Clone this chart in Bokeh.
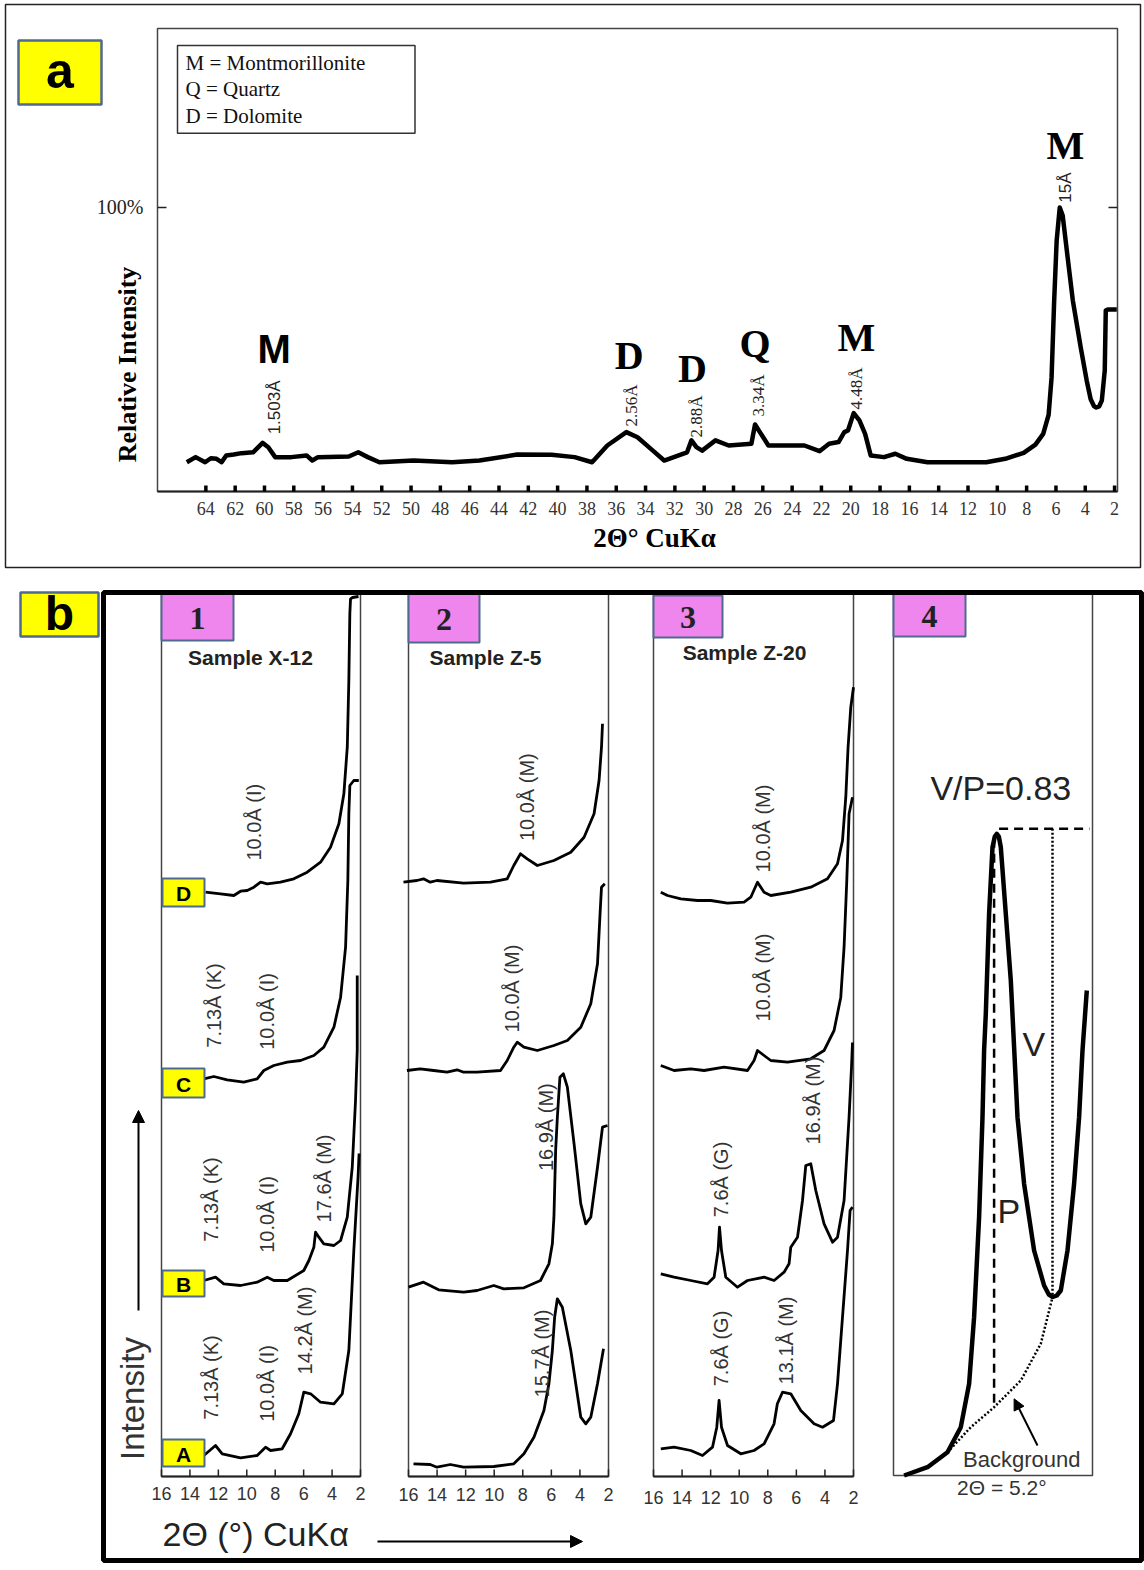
import numpy as np
from bokeh.plotting import figure
from bokeh.models import Range1d, Arrow, NormalHead
from bokeh.core.properties import value
from bokeh.embed import file_html
from bokeh.resources import INLINE

W, H = 1144, 1570

# ---------------- data: panel a (2theta in degrees, relative intensity in %) ----------------
A_TWO_THETA = [65.3, 64.7, 64.05, 63.66, 63.27, 62.93, 62.61, 62.10, 61.57, 60.78, 60.13, 59.74,
               59.27, 58.17, 57.13, 56.74, 56.35, 54.25, 53.60, 52.95, 52.16, 49.82, 47.20, 45.33,
               42.76, 40.41, 38.84, 37.65, 36.61, 35.31, 34.55, 33.50, 32.73, 31.17, 30.87, 30.53,
               30.14, 29.23, 28.33, 26.78, 26.53, 25.62, 23.16, 22.13, 21.48, 20.83, 20.44, 20.19,
               19.80, 19.41, 19.02, 18.64, 17.73, 16.96, 16.18, 14.76, 10.75, 9.46, 8.20, 7.40,
               6.87, 6.50, 6.30, 6.12, 5.95, 5.74, 5.54, 5.26, 4.85, 4.31, 3.90, 3.63, 3.40, 3.25,
               3.05, 2.87, 2.67, 2.60, 2.46, 1.85]
A_INTENSITY = [10.3, 12.1, 10.3, 11.7, 11.5, 10.3, 12.7, 13.0, 13.5, 13.8, 17.1, 15.6,
               12.1, 12.1, 12.7, 10.9, 12.1, 12.3, 13.8, 12.1, 10.3, 10.9, 10.3, 10.9,
               13.0, 12.9, 12.1, 10.3, 16.2, 20.9, 19.1, 14.4, 10.9, 13.8, 18.0, 15.6,
               14.4, 18.0, 16.2, 16.8, 23.6, 16.2, 16.2, 14.2, 16.8, 17.4, 20.9, 21.5,
               27.6, 25.0, 20.3, 12.7, 12.1, 13.3, 11.5, 10.3, 10.3, 11.5, 13.6, 16.5,
               20.3, 27.0, 40.0, 67.3, 88.4, 100.0, 97.2, 84.9, 67.3, 50.7, 39.0, 32.5, 30.0, 29.6,
               30.0, 32.0, 42.6, 63.7, 64.1, 64.1]
A_TICKS = [64, 62, 60, 58, 56, 54, 52, 50, 48, 46, 44, 42, 40, 38, 36, 34, 32, 30, 28, 26, 24,
           22, 20, 18, 16, 14, 12, 10, 8, 6, 4, 2]
A_TICK_LABELS = [str(t) for t in A_TICKS]
A_PEAK_LETTERS = ["M", "D", "D", "Q", "M", "M"]
A_PEAK_D = ["1.503Å", "2.56Å", "2.88Å", "3.34Å", "4.48Å", "15Å"]
A_PEAK_POS = [59.34, 34.93, 30.54, 26.29, 19.61, 5.35]
LEGEND_LINES = ["M = Montmorillonite", "Q = Quartz", "D = Dolomite"]

# ---------------- data: panel b (2theta in degrees, intensity in arbitrary units) ----------------
B_TICKS = [16, 14, 12, 10, 8, 6, 4, 2]
B_TICK_LABELS = [str(t) for t in B_TICKS]

S1_D_X = [12.90, 11.85, 10.91, 10.44, 9.97, 9.50, 9.03, 8.56, 7.63, 6.69, 5.75, 4.81, 4.11, 3.52,
          3.17, 2.93, 2.82, 2.75, 2.70, 2.56, 2.14]
S1_D_Y = [584.3, 582.7, 581, 585.3, 586, 589.3, 594.3, 592.7, 594.3, 597.7, 604.3, 614.3, 629.3,
          652.7, 682.7, 729.3, 796, 862.7, 877.7, 879, 880]
S1_C_X = [13.02, 12.32, 11.38, 10.21, 9.27, 8.80, 8.10, 7.15, 6.22, 5.28, 4.58, 3.87, 3.40, 3.05,
          2.89, 2.82, 2.75, 2.47, 2.12]
S1_C_Y = [397.7, 400, 396.7, 394.3, 397.7, 406, 411, 414.3, 416, 421, 429.3, 449.3, 479.3, 529.3,
          596, 663, 691, 696, 696]
S1_B_X = [13.02, 12.20, 11.62, 10.44, 9.27, 8.56, 8.10, 7.15, 5.99, 5.63, 5.28, 5.16, 4.93, 4.58,
          3.87, 3.40, 2.93, 2.58, 2.35, 2.23, 2.23]
S1_B_Y = [196, 199.3, 192.7, 191, 194.3, 199.3, 196, 196, 206, 216, 229.3, 244.3, 239.3, 232.7,
          231, 236, 259.3, 309.3, 376, 426, 501]
S1_A_X = [13.02, 12.20, 11.73, 10.44, 9.27, 8.68, 8.33, 7.51, 6.92, 6.34, 5.99, 5.51, 4.81, 3.87,
          3.28, 2.82, 2.47, 2.17, 2.10]
S1_A_Y = [21, 31, 22.7, 18.7, 21, 29.3, 26, 27.7, 42.7, 62.7, 84.3, 82.7, 74.3, 72.7, 82.7, 126,
          226, 300, 323]

S2_D_X = [16.35, 15.41, 14.95, 14.48, 14.01, 12.14, 10.26, 9.09, 8.63, 8.16, 7.69, 6.98, 5.82,
          4.64, 3.71, 3.01, 2.66, 2.49, 2.42]
S2_D_Y = [594.3, 596, 597.7, 594.3, 596, 593.3, 594.3, 597.7, 611, 622.7, 617.7, 611, 616, 624.3,
          639.3, 662.7, 696, 729.3, 752.7]
S2_C_X = [16.11, 15.18, 14.24, 13.30, 12.60, 12.14, 11.20, 9.56, 9.09, 8.63, 8.39, 7.92, 6.98,
          5.82, 4.88, 3.94, 3.24, 2.77, 2.59, 2.49, 2.26]
S2_C_Y = [406, 407.7, 406, 404.3, 406.7, 404.3, 404.3, 406, 416, 429.3, 434.3, 429.3, 426, 431,
          436, 449.3, 472.7, 512.7, 562.7, 589.3, 592.7]
S2_B_X = [16.00, 14.95, 13.89, 12.14, 11.20, 10.03, 9.33, 7.92, 6.76, 6.17, 5.93, 5.82, 5.70, 5.58,
          5.40, 5.16, 4.88, 4.41, 3.94, 3.59, 3.24, 2.77, 2.42, 2.07]
S2_B_Y = [189.3, 194.3, 186.7, 184.3, 186, 191, 187.7, 188.7, 196, 212.7, 232.7, 259.3, 326, 359.3,
          399.3, 402.7, 389.3, 332.7, 272.7, 252.7, 259.3, 309.3, 349.3, 351]
S2_A_X = [15.65, 14.48, 14.01, 13.07, 12.14, 10.03, 8.63, 7.92, 7.22, 6.52, 6.17, 5.93, 5.77, 5.58,
          5.23, 4.64, 3.94, 3.59, 3.24, 2.77, 2.35]
S2_A_Y = [12.7, 12, 9.3, 12, 9.3, 10, 12.7, 22.7, 39.3, 66, 92.7, 126, 159.3, 177.7, 169.3, 126,
          59.3, 52.7, 59.3, 92.7, 127.7]

S3_D_X = [15.49, 15.02, 14.09, 12.92, 11.99, 10.82, 9.66, 9.19, 8.72, 8.26, 7.79, 6.39, 4.99, 3.82,
          3.12, 2.77, 2.54, 2.38, 2.19, 2.00]
S3_D_Y = [584.3, 581, 577.7, 576, 576, 573.3, 574.3, 579.3, 594.3, 584.3, 581, 584.3, 589.3, 597.7,
          612.7, 636, 679.3, 729.3, 769.3, 789.3]
S3_C_X = [15.49, 14.56, 13.39, 12.46, 11.06, 9.42, 8.96, 8.72, 8.26, 7.79, 6.62, 4.99, 4.06, 3.36,
          2.89, 2.66, 2.47, 2.31, 2.07]
S3_C_Y = [411, 406, 407.7, 406, 409.3, 406, 416, 426, 421, 416, 414.3, 417.7, 426, 446, 479.3,
          529.3, 596, 662.7, 679.3]
S3_B_X = [15.49, 14.56, 13.39, 12.22, 11.76, 11.48, 11.38, 11.24, 10.94, 10.12, 9.42, 8.26, 7.56,
          6.86, 6.51, 6.39, 5.92, 5.57, 5.34, 4.99, 4.64, 4.06, 3.47, 3.12, 2.66, 2.31, 2.14, 2.07]
S3_B_Y = [202.7, 199.3, 196, 192.7, 199.3, 226, 249.3, 226, 199.3, 189.3, 196, 199.3, 196, 204.3,
          212.7, 229.3, 239.3, 276, 311, 312.7, 286, 252.7, 234.3, 239.3, 276, 359.3, 409.3, 434]
S3_A_X = [15.49, 14.56, 13.39, 12.57, 11.87, 11.57, 11.41, 11.24, 10.82, 9.89, 8.96, 8.26, 7.91,
          7.56, 7.33, 6.97, 6.39, 5.69, 4.76, 4.17, 3.40, 3.12, 2.77, 2.42, 2.24, 2.07]
S3_A_Y = [27.7, 29.3, 26, 21, 29.3, 49.3, 76, 49.3, 31, 22.7, 26, 32.7, 42.7, 52.7, 72.7, 84.3,
          82.7, 66, 52.7, 49.3, 56, 92.7, 159.3, 226, 266, 269.3]

# panel b-4 schematic (arbitrary units)
S4_X = [10.6, 34, 54, 67.3, 75.6, 80.6, 85.6, 89, 90.6, 92.3, 95.6, 99, 101.3, 103.3, 105.3, 107.3,
        112.3, 117.3, 120.6, 124, 130.6, 140.6, 150.6, 155.3, 159.3, 163.3, 167.3, 174, 180.6,
        185.6, 189, 193.3]
S4_Y = [0, 8.3, 23.3, 48.3, 91.7, 158.3, 258.3, 358.3, 425, 461.7, 561.7, 628.3, 639, 641.7, 639,
        628.3, 561.7, 495, 428.3, 358.3, 291.7, 225, 190, 181, 178.5, 180, 185, 225, 291.7,
        358.3, 425, 485]
S4_BG_X = [54, 77.3, 100.6, 127.3, 147.3, 159]
S4_BG_Y = [23.3, 48.3, 68.3, 95, 131.7, 178.3]
S4_PEAK_X, S4_PEAK_Y = 100.6, 646.7
S4_VALLEY_X, S4_VALLEY_Y = 159, 178.3
S4_BG_AT_PEAK = 68.3

# ---------------- layout (pixel boxes on the 1144 x 1570 page) ----------------
A_BOX = (157, 1117, 28, 491)         # left, right, top, bottom
A_XLIM = (67.3, 1.8)
A_YLIM = (0, 163)
S_BOXES = {"s1": (161, 360, 593, 1476), "s2": (408, 608, 593, 1476),
           "s3": (653, 853, 593, 1476), "s4": (893, 1092, 593, 1475)}
S_XLIM = (16, 2)
S_YLIM = (0, 883)
S4_XLIM = (0, 199)
S4_YLIM = (0, 882)


def x_extra(left, right, v_left, v_right):
    k = (v_right - v_left) / (right - left)
    return Range1d(start=v_left - left * k, end=v_left + (W - left) * k)


def y_extra(top, bottom, v_bottom, v_top):
    k = (v_top - v_bottom) / (bottom - top)
    return Range1d(start=v_bottom - (H - bottom) * k, end=v_bottom + bottom * k)


p = figure(width=W, height=H, x_range=Range1d(0, W), y_range=Range1d(H, 0),
           x_axis_location=None, y_axis_location=None, toolbar_location=None,
           output_backend="svg", min_border=0, outline_line_color=None,
           background_fill_color="white", border_fill_color="white")
p.grid.visible = False

p.extra_x_ranges = {"a": x_extra(A_BOX[0], A_BOX[1], *A_XLIM)}
p.extra_y_ranges = {"a": y_extra(A_BOX[2], A_BOX[3], *A_YLIM)}
for name, (l, r, t, b) in S_BOXES.items():
    xl = S4_XLIM if name == "s4" else S_XLIM
    yl = S4_YLIM if name == "s4" else S_YLIM
    p.extra_x_ranges[name] = x_extra(l, r, *xl)
    p.extra_y_ranges[name] = y_extra(t, b, *yl)


def txt(x, y, s, size, font="Liberation Sans", bold=False, angle=0.0, align="center",
        baseline="middle", color="black", r="default"):
    p.text(x=[x], y=[y], text=[s], text_font=value(font), text_font_size=f"{size}px",
           text_font_style=("bold" if bold else "normal"), angle=angle, text_align=align,
           text_baseline=baseline, text_color=color, x_range_name=r, y_range_name=r)


def box(l, r, t, b, fill, line, lw=2.0):
    p.quad(left=[l], right=[r], top=[t], bottom=[b], fill_color=fill, line_color=line,
           line_width=lw)


YELLOW = "#FFFF00"
PINK = "#EE86EE"
BOXLINE = "#4F6A8F"
ROT = np.pi / 2

# ======================= panel a =======================
box(5, 1140, 4, 567, None, "#222222", 1.5)
box(18, 101, 40, 104, YELLOW, BOXLINE, 2.5)
txt(59.5, 70, "a", 50, bold=True)

# plot box + axes
p.quad(left=[A_XLIM[0]], right=[A_XLIM[1]], top=[A_YLIM[1]], bottom=[A_YLIM[0]], fill_color=None,
       line_color="#444444", line_width=1.5, x_range_name="a", y_range_name="a")
p.segment(x0=[A_XLIM[0]], y0=[0], x1=[A_XLIM[1]], y1=[0], line_color="#222222", line_width=2,
          x_range_name="a", y_range_name="a")
tick_len = 6 * (A_YLIM[1] - A_YLIM[0]) / (A_BOX[3] - A_BOX[2])
p.segment(x0=A_TICKS, y0=[0] * len(A_TICKS), x1=A_TICKS, y1=[tick_len] * len(A_TICKS),
          line_color="black", line_width=3.5, x_range_name="a", y_range_name="a")
p.text(x=A_TICKS, y=[-6.0] * len(A_TICKS), text=A_TICK_LABELS, text_font=value("Liberation Serif"),
       text_font_size="18px", text_align="center", text_baseline="middle", text_color="#333333",
       x_range_name="a", y_range_name="a")
ytick = 9 * (A_XLIM[0] - A_XLIM[1]) / (A_BOX[1] - A_BOX[0])
p.segment(x0=[A_XLIM[0], A_XLIM[1]], y0=[100, 100], x1=[A_XLIM[0] - ytick, A_XLIM[1] + ytick],
          y1=[100, 100], line_color="#222222", line_width=1.5, x_range_name="a", y_range_name="a")
txt(A_XLIM[0] + 14 * (A_XLIM[0] - A_XLIM[1]) / 960, 100, "100%", 20, font="Liberation Serif",
    align="right", color="#222222", r="a")
txt(127, 364, "Relative Intensity", 26, font="Liberation Serif", bold=True, angle=ROT)
txt(654, 537, "2Θ° CuKα", 27, font="Liberation Serif", bold=True)

# legend box
box(177, 414.5, 45, 132.7, "white", "#333333", 1.5)
for i, line in enumerate(LEGEND_LINES):
    txt(185, 62 + 26.5 * i, line, 21, font="Liberation Serif", align="left", color="#111111")

# trace
p.line(A_TWO_THETA, A_INTENSITY, line_color="black", line_width=4.5, line_join="round",
       x_range_name="a", y_range_name="a")

# peak annotations
letter_y = [50.3, 47.9, 43.3, 52.1, 54.2, 121.8]
d_y = [29.6, 30.3, 26.4, 33.8, 36.3, 107.0]
letter_x = [59.34, 35.11, 30.80, 26.53, 19.61, 5.35]
for i, (lt, dd) in enumerate(zip(A_PEAK_LETTERS, A_PEAK_D)):
    sans = (i == 0)
    txt(letter_x[i], letter_y[i], lt, 40, font=("Liberation Sans" if sans else "Liberation Serif"),
        bold=True, r="a")
    txt(A_PEAK_POS[i], d_y[i], dd, 17, font=("Liberation Sans" if (sans or i == 5) else "Liberation Serif"),
        angle=ROT, color="#222222", r="a")

# ======================= panel b =======================
box(20, 98, 592, 636, YELLOW, BOXLINE, 2.5)
txt(59, 613, "b", 48, bold=True)

traces = {
    "s1": [(S1_D_X, S1_D_Y), (S1_C_X, S1_C_Y), (S1_B_X, S1_B_Y), (S1_A_X, S1_A_Y)],
    "s2": [(S2_D_X, S2_D_Y), (S2_C_X, S2_C_Y), (S2_B_X, S2_B_Y), (S2_A_X, S2_A_Y)],
    "s3": [(S3_D_X, S3_D_Y), (S3_C_X, S3_C_Y), (S3_B_X, S3_B_Y), (S3_A_X, S3_A_Y)],
}
tick_label_y = {"s1": -17, "s2": -18, "s3": -21}
for name in ["s1", "s2", "s3", "s4"]:
    xl = S4_XLIM if name == "s4" else S_XLIM
    yl = S4_YLIM if name == "s4" else S_YLIM
    p.quad(left=[xl[0]], right=[xl[1]], top=[yl[1]], bottom=[yl[0]], fill_color=None,
           line_color="#444444", line_width=1.5, x_range_name=name, y_range_name=name)
    if name == "s4":
        continue
    p.segment(x0=[xl[0]], y0=[0], x1=[xl[1]], y1=[0], line_color="#222222", line_width=2,
              x_range_name=name, y_range_name=name)
    p.segment(x0=B_TICKS, y0=[0] * len(B_TICKS), x1=B_TICKS, y1=[7] * len(B_TICKS),
              line_color="#222222", line_width=1.5, x_range_name=name, y_range_name=name)
    p.text(x=B_TICKS, y=[tick_label_y[name]] * len(B_TICKS), text=B_TICK_LABELS,
           text_font=value("Liberation Sans"), text_font_size="18px", text_align="center",
           text_baseline="middle", text_color="#333333", x_range_name=name, y_range_name=name)
    for xs, ys in traces[name]:
        p.line(xs, ys, line_color="black", line_width=2.8, line_join="round",
               x_range_name=name, y_range_name=name)

# peak labels in panel b
LBL = [
    ("s1", 9.50, 654.3, "10.0Å (I)"), ("s1", 12.32, 471, "7.13Å (K)"), ("s1", 8.56, 465, "10.0Å (I)"),
    ("s1", 12.55, 277, "7.13Å (K)"), ("s1", 8.56, 262, "10.0Å (I)"), ("s1", 4.58, 298, "17.6Å (M)"),
    ("s1", 12.55, 99, "7.13Å (K)"), ("s1", 8.56, 93, "10.0Å (I)"), ("s1", 5.87, 146, "14.2Å (M)"),
    ("s2", 7.69, 679.3, "10.0Å (M)"), ("s2", 8.74, 488, "10.0Å (M)"), ("s2", 6.40, 349.3, "16.9Å (M)"),
    ("s2", 6.63, 123, "15.7Å (M)"),
    ("s3", 8.37, 648, "10.0Å (M)"), ("s3", 8.37, 499, "10.0Å (M)"), ("s3", 11.29, 297, "7.6Å (G)"),
    ("s3", 4.87, 376, "16.9Å (M)"), ("s3", 11.29, 128, "7.6Å (G)"), ("s3", 6.74, 136, "13.1Å (M)"),
]
for name, x, y, s in LBL:
    txt(x, y, s, 20, angle=ROT, color="#333333", r=name)

# schematic (panel 4)
p.line(S4_X, S4_Y, line_color="black", line_width=4.5, line_join="round",
       x_range_name="s4", y_range_name="s4")
p.line(S4_BG_X, S4_BG_Y, line_color="black", line_width=2.5, line_dash="2 2",
       x_range_name="s4", y_range_name="s4")
p.segment(x0=[S4_PEAK_X + 5], y0=[S4_PEAK_Y], x1=[S4_XLIM[1] - 3], y1=[S4_PEAK_Y], line_color="black",
          line_width=2.5, line_dash="9 6", x_range_name="s4", y_range_name="s4")
p.segment(x0=[S4_PEAK_X], y0=[S4_PEAK_Y - 10], x1=[S4_PEAK_X], y1=[S4_BG_AT_PEAK], line_color="black",
          line_width=2.5, line_dash="9 6", x_range_name="s4", y_range_name="s4")
p.segment(x0=[S4_VALLEY_X], y0=[S4_PEAK_Y], x1=[S4_VALLEY_X], y1=[S4_VALLEY_Y], line_color="black",
          line_width=2.5, line_dash="2 2", x_range_name="s4", y_range_name="s4")
txt(107.3, 688, "V/P=0.83", 34, color="#222222", r="s4")
txt(140.3, 432, "V", 34, color="#222222", r="s4")
txt(115.3, 265, "P", 34, color="#222222", r="s4")
txt(128.3, 16, "Background", 22, color="#333333", r="s4")
txt(108.3, -12, "2Θ = 5.2°", 21, color="#333333", r="s4")
p.add_layout(Arrow(end=NormalHead(size=11, fill_color="black", line_color="black"),
                   x_start=144, y_start=30, x_end=120.6, y_end=76.7, line_width=2,
                   x_range_name="s4", y_range_name="s4"))

# headers
HEAD = [(161, 233, 593, 640, "1"), (408, 479, 593, 642, "2"), (653, 722, 595, 637, "3"),
        (893, 965, 593, 636, "4")]
for l, r, t, b, s in HEAD:
    box(l, r, t, b, PINK, BOXLINE, 2)
    txt((l + r) / 2, (t + b) / 2 + 1, s, 32, font="Liberation Serif", bold=True, color="#222222")
txt(250, 657, "Sample X-12", 21, bold=True, color="#222222")
txt(485, 657, "Sample Z-5", 21, bold=True, color="#222222")
txt(744, 652, "Sample Z-20", 21, bold=True, color="#222222")

# sample letters
for t, b, s in [(878, 906, "D"), (1068, 1097, "C"), (1270, 1296, "B"), (1439, 1466, "A")]:
    box(162, 204, t, b, YELLOW, BOXLINE, 2)
    txt(183, (t + b) / 2 + 1, s, 21, bold=True)

# axis captions of panel b
txt(132, 1398, "Intensity", 33, angle=ROT, color="#333333")
p.add_layout(Arrow(end=NormalHead(size=12, fill_color="black", line_color="black"),
                   x_start=138, y_start=1310, x_end=138, y_end=1110, line_width=2))
txt(162, 1533, "2Θ (°) CuKα", 34, align="left", color="#222222")
p.add_layout(Arrow(end=NormalHead(size=12, fill_color="black", line_color="black"),
                   x_start=377, y_start=1541, x_end=582, y_end=1541, line_width=2))

# thick frame of panel b
box(103, 1141, 592, 1560, None, "black", 5)

open("out.html", "w").write(file_html(p, INLINE))
